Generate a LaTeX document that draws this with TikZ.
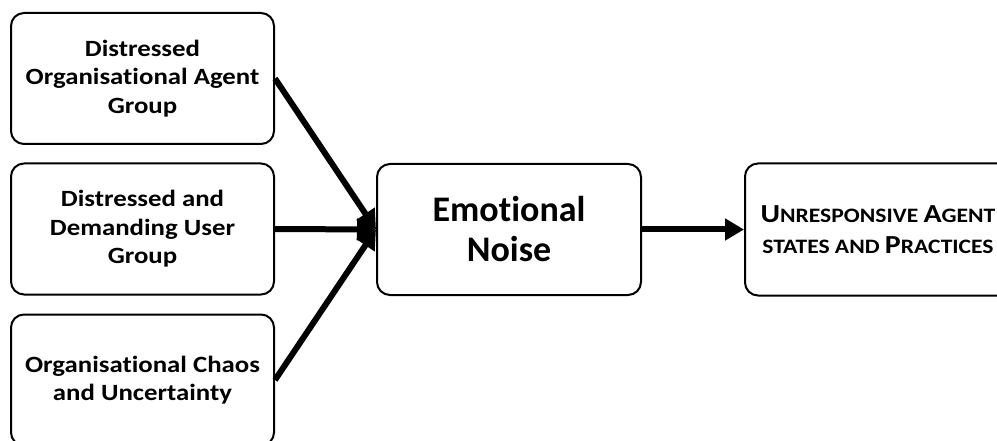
\documentclass[tikz,border=0pt]{standalone}
\usepackage{fontspec}
\setmainfont{Carlito}[Ligatures=NoCommon]
% slightly widened face for the box labels
\newfontfamily\widefont{Carlito}[Ligatures=NoCommon, FakeStretch=1.15]
\usetikzlibrary{arrows.meta}
% larger capital inside small-caps style text
\newcommand{\bigcapital}[1]{{\fontsize{26}{31.5}\selectfont #1}}
\tikzset{
  stage/.style={draw=black, line width=2pt, rounded corners=13pt, fill=white,
    align=center, inner sep=0pt, font=\bfseries},
  inbox/.style={stage, minimum width=263pt, minimum height=131pt,
    font=\widefont\fontsize{23.3}{28.5}\selectfont\bfseries},
  flow/.style={line width=6pt, -{Triangle[length=19pt,width=21pt]}},
}
\begin{document}
\begin{tikzpicture}[x=1pt, y=-1pt]
  \useasboundingbox (0,0) rectangle (997,441);
  \clip (0,0) rectangle (997,441);
  % sources
  \node[inbox] (agent) at (142.5,78.5) {Distressed\\Organisational Agent\\Group};
  \node[inbox] (user)  at (142.5,229)  {Distressed and\\Demanding User\\Group};
  \node[inbox] (chaos) at (142.5,380)  {Organisational Chaos\\and Uncertainty};
  % central construct
  \node[stage, minimum width=264pt, minimum height=131pt,
        font=\fontsize{36}{40}\selectfont\bfseries] (noise) at (509,229.5) {Emotional\\Noise};
  % outcome
  \node[stage, minimum width=266pt, minimum height=132pt,
        font=\widefont\fontsize{20.5}{31.5}\selectfont\bfseries] (outcome) at (878,229.5)
        {\bigcapital{U}NRESPONSIVE \bigcapital{A}GENT\\STATES AND \bigcapital{P}RACTICES};
  % connectors
  \draw[flow] (agent.east) -- (noise.west);
  \draw[flow] (user.east)  -- (noise.west);
  \draw[flow] (chaos.east) -- (noise.west);
  \draw[flow] (noise.east) -- (outcome.west);
\end{tikzpicture}
\end{document}
